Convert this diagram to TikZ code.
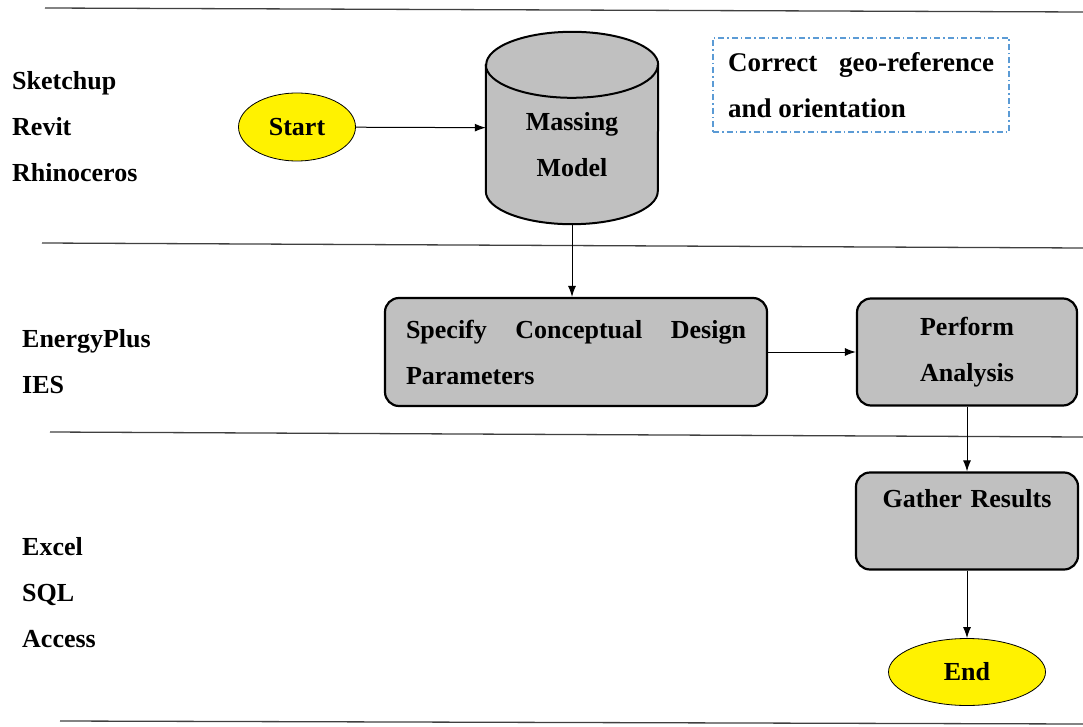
\documentclass[tikz,border=0pt]{standalone}
\usepackage{fontspec}
\setmainfont{Liberation Serif}
\usetikzlibrary{shapes.geometric, arrows.meta}
\definecolor{boxgray}{RGB}{192,192,192}
\definecolor{dashblue}{RGB}{91,155,213}
\hyphenpenalty=10000
\tikzstyle{tool} = [anchor=west, align=left, inner sep=0pt]
\tikzstyle{term} = [ellipse, draw, fill=yellow, line width=0.8pt, inner sep=0pt]
\tikzstyle{proc} = [draw, line width=2.2pt, rounded corners=14pt, fill=boxgray, inner sep=0pt]
\tikzstyle{lane} = [draw=black!75, line width=1.3pt]
\tikzstyle{flow} = [-{Latex[length=11pt,width=8pt]}, line width=1pt]
\tikzstyle{rim} = [x radius=86pt, y radius=33pt]

\begin{document}
\begin{tikzpicture}[x=1pt, y=-1pt, font=\bfseries\fontsize{26}{46}\selectfont]
	\useasboundingbox (0,0) rectangle (1083,727);
	% lanes
	\draw[lane] (45,8) -- (1083,12);
	\draw[lane] (42,243) -- (1083,248);
	\draw[lane] (50,432) -- (1083,437);
	\draw[lane] (60,721) -- (1083,724);
	% software per lane
	\node[tool] (cad) at (12,127) {Sketchup\\Revit\\Rhinoceros};
	\node[tool] (sim) at (22,362) {EnergyPlus\\IES};
	\node[tool] (data) at (22,593) {Excel\\SQL\\Access};
	% flow
	\node[term, minimum width=117pt, minimum height=68pt] (start) at (297,127) {Start};
	\node[minimum width=172pt, minimum height=192pt, inner sep=0pt] (mass) at (572,128) {};
	\draw[line width=2pt, fill=boxgray]
	      ([yshift=-33pt]mass.north west) -- ([yshift=33pt]mass.south west)
	      arc[start angle=180, end angle=360, rim] -- ([yshift=-33pt]mass.north east)
	      arc[start angle=0, end angle=180, rim] -- cycle;
	\draw[line width=2pt] ([yshift=-33pt]mass.north west) arc[start angle=180, end angle=360, rim];
	\node[align=center] (masslabel) at ([yshift=-17pt]mass.center) {Massing\\Model};
	\node[draw=dashblue, dash pattern=on 6pt off 3pt on 1.5pt off 3pt, line width=1.3pt,
	      text width=266pt, align=justify, inner xsep=15pt, minimum height=94pt,
	      font=\bfseries\fontsize{27}{46}\selectfont]
	      (note) at (861,85) {Correct geo-reference and orientation};
	\node[proc, text width=340pt, align=justify, inner xsep=21pt,
	      minimum height=108pt] (spec) at (576,352) {Specify Conceptual Design Parameters};
	\node[proc, text width=220pt, align=center, minimum height=107pt] (perf) at (967,352) {Perform\\Analysis};
	\node[proc, text width=222pt, align=center, minimum height=97pt] (gath) at (967,521) {Gather Results\\\mbox{}};
	\node[term, minimum width=157pt, minimum height=67pt] (end) at (967,672) {End};
	% connectors
	\draw[flow] (start) -- (mass);
	\draw[flow] (mass) -- (spec.north -| mass);
	\draw[flow] (spec) -- (perf);
	\draw[flow] (perf) -- (gath);
	\draw[flow] (gath) -- (end);
\end{tikzpicture}
\end{document}
